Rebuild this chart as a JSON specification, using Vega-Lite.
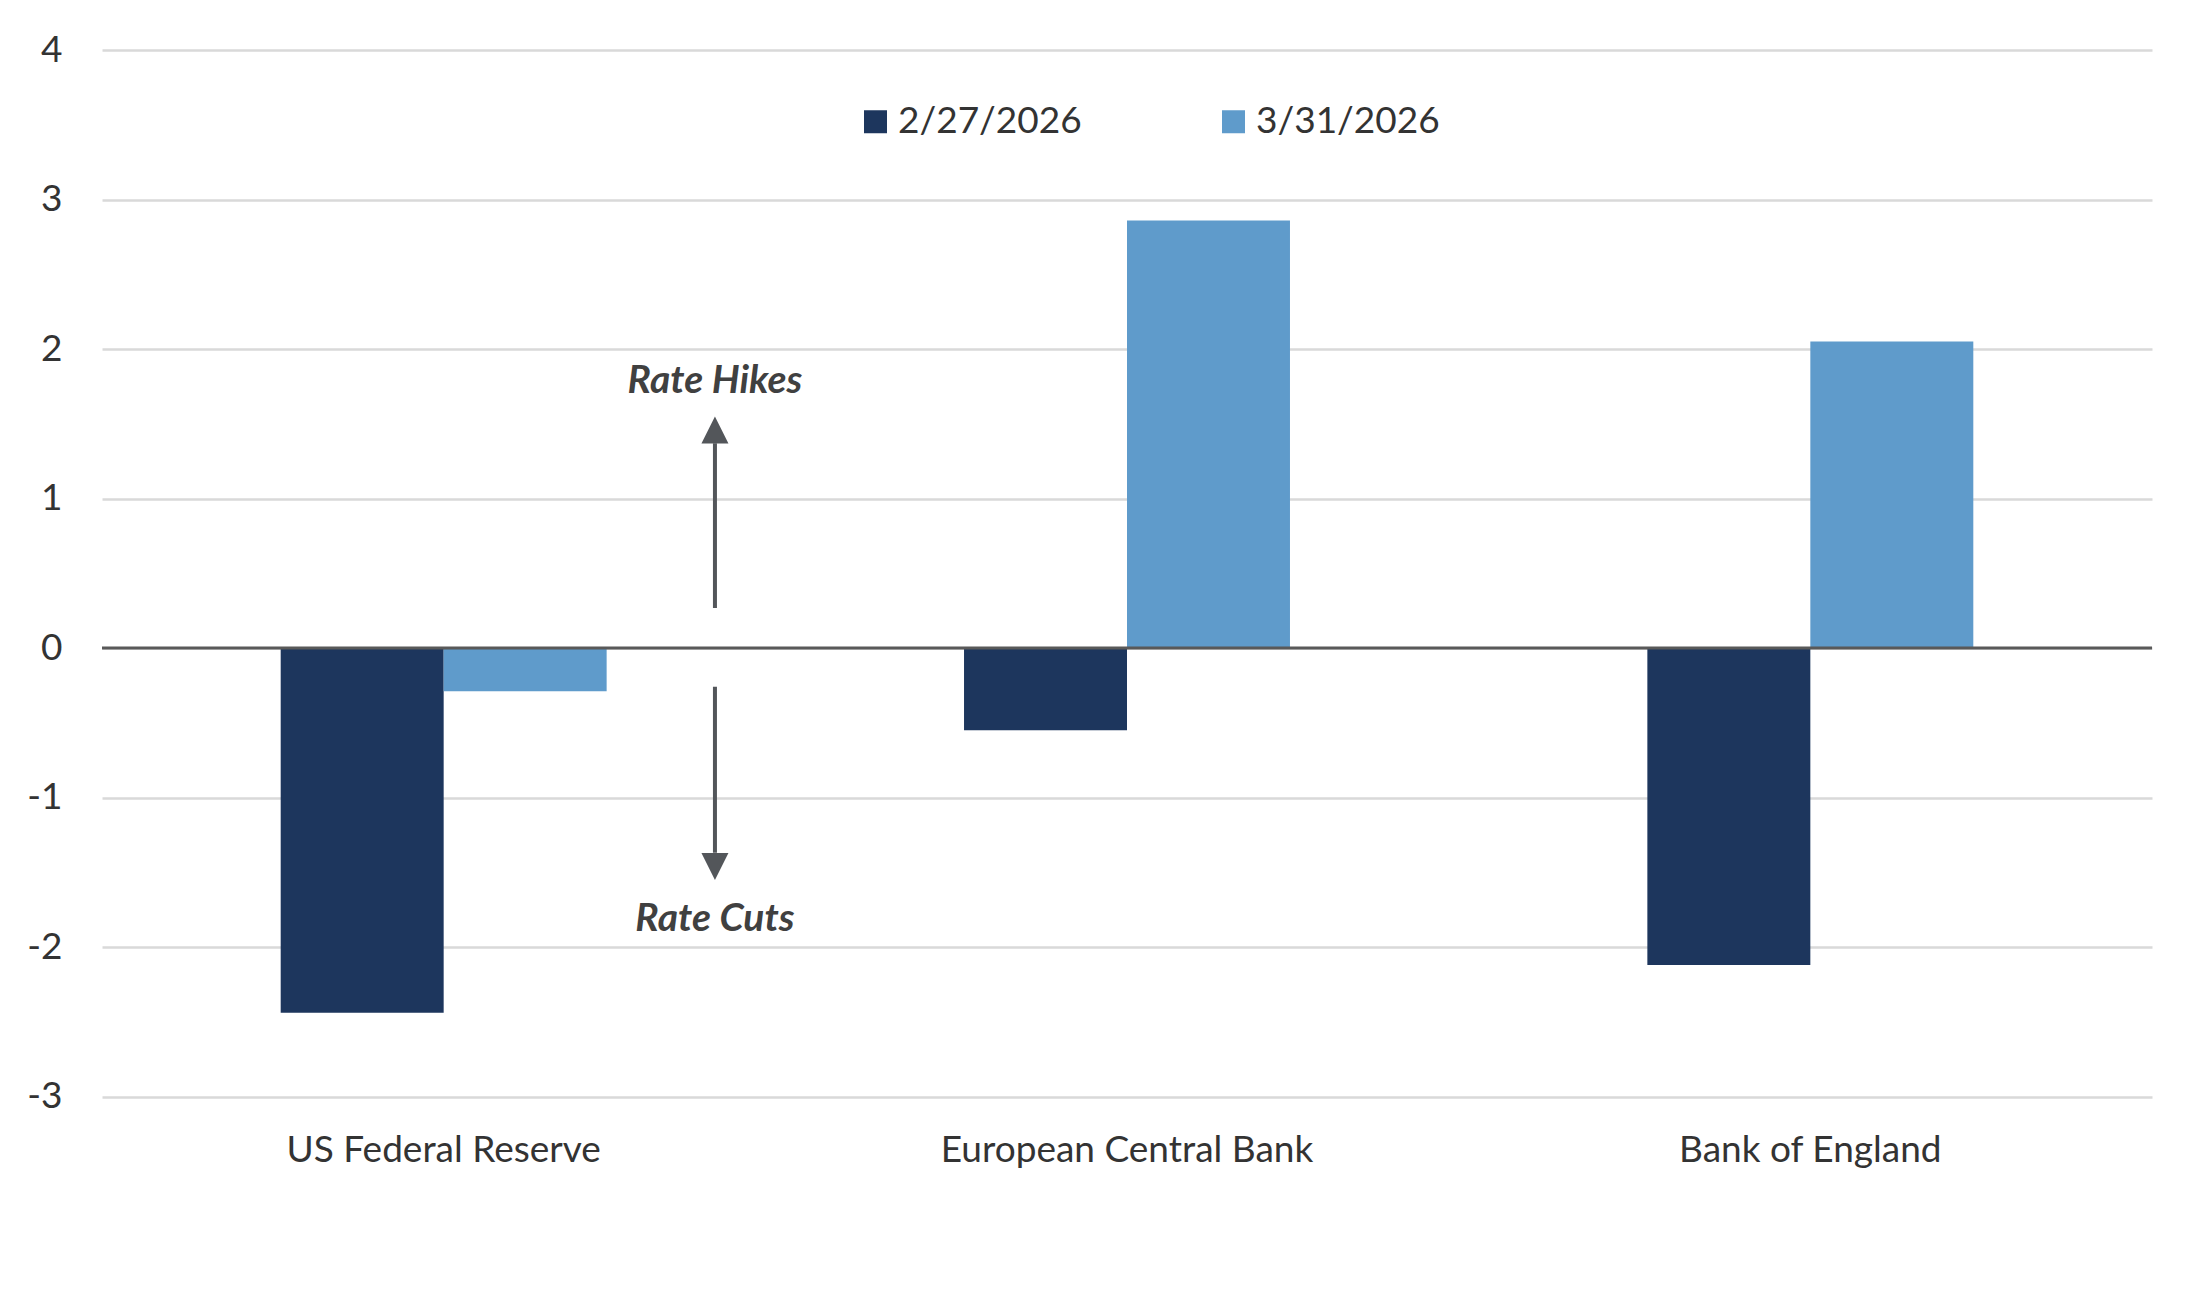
{
  "$schema": "https://vega.github.io/schema/vega-lite/v6.json",
  "autosize": {"type": "none"},
  "width": 2050,
  "height": 1046.5,
  "padding": {"left": 102, "top": 50, "right": 50, "bottom": 211.5},
  "background": "white",
  "config": {
    "font": "Lato",
    "view": {"stroke": null},
    "axis": {"labelFont": "Lato", "labelFontSize": 37, "labelColor": "#333333", "labelLimit": 600},
    "legend": {"labelFont": "Lato", "labelFontSize": 37, "labelColor": "#333333", "labelLimit": 600}
  },
  "datasets": {
    "bars": [
      {"bank": "US Federal Reserve", "date": "2/27/2026", "value": -2.44},
      {"bank": "US Federal Reserve", "date": "3/31/2026", "value": -0.29},
      {"bank": "European Central Bank", "date": "2/27/2026", "value": -0.55},
      {"bank": "European Central Bank", "date": "3/31/2026", "value": 2.86},
      {"bank": "Bank of England", "date": "2/27/2026", "value": -2.12},
      {"bank": "Bank of England", "date": "3/31/2026", "value": 2.05}
    ],
    "zero": [{"y": 0}],
    "arrows": [
      {"pos": 0.897, "from": 0.268, "to": 1.37},
      {"pos": 0.897, "from": -0.26, "to": -1.37}
    ],
    "heads": [
      {"pos": 0.897, "y": 1.458, "dir": "up"},
      {"pos": 0.897, "y": -1.462, "dir": "down"}
    ],
    "notes": [
      {"pos": 0.897, "y": 1.786, "label": "Rate Hikes"},
      {"pos": 0.897, "y": -1.813, "label": "Rate Cuts"}
    ]
  },
  "layer": [
    {
      "data": {"name": "bars"},
      "mark": {"type": "bar"},
      "encoding": {
        "x": {
          "field": "bank", "type": "nominal", "sort": null, "title": null,
          "scale": {"paddingInner": 0.523, "paddingOuter": 0.2615},
          "axis": {"domain": false, "ticks": false, "labelAngle": 0, "labelPadding": 36}
        },
        "xOffset": {"field": "date", "type": "nominal", "scale": {"paddingInner": 0}},
        "y": {
          "field": "value", "type": "quantitative", "title": null,
          "scale": {"domain": [-3, 4], "nice": false, "zero": false},
          "axis": {
            "values": [-3, -2, -1, 0, 1, 2, 3, 4], "labelExpr": "'' + datum.value",
            "domain": false, "ticks": false, "labelPadding": 40,
            "gridColor": "#d9d9d9", "gridWidth": 2.7
          }
        },
        "color": {
          "field": "date", "type": "nominal",
          "scale": {"domain": ["2/27/2026", "3/31/2026"], "range": ["#1d365d", "#5f9bcb"]},
          "legend": {
            "title": null, "orient": "none", "direction": "horizontal",
            "legendX": 755, "legendY": 53, "padding": 0,
            "symbolType": "square", "symbolSize": 529, "symbolStrokeWidth": 0,
            "labelOffset": 4, "columnPadding": 133
          }
        }
      }
    },
    {
      "data": {"name": "zero"},
      "mark": {"type": "rule", "color": "#595959", "strokeWidth": 3},
      "encoding": {"y": {"field": "y", "type": "quantitative"}}
    },
    {
      "data": {"name": "arrows"},
      "mark": {"type": "rule", "color": "#53565a", "strokeWidth": 4},
      "encoding": {
        "x": {"field": "pos", "type": "quantitative", "scale": {"domain": [0, 3], "nice": false}, "axis": null},
        "y": {"field": "from", "type": "quantitative"},
        "y2": {"field": "to"}
      }
    },
    {
      "data": {"name": "heads"},
      "mark": {"type": "point", "filled": true, "color": "#53565a", "opacity": 1, "size": 729},
      "encoding": {
        "x": {"field": "pos", "type": "quantitative", "scale": {"domain": [0, 3], "nice": false}, "axis": null},
        "y": {"field": "y", "type": "quantitative"},
        "shape": {
          "field": "dir", "type": "nominal", "legend": null,
          "scale": {"domain": ["up", "down"], "range": ["M0,-1L1,1L-1,1Z", "M0,1L1,-1L-1,-1Z"]}
        }
      }
    },
    {
      "data": {"name": "notes"},
      "mark": {"type": "text", "font": "Lato", "fontSize": 39, "fontWeight": "bold", "fontStyle": "italic", "color": "#404040", "baseline": "middle", "align": "center"},
      "encoding": {
        "x": {"field": "pos", "type": "quantitative", "scale": {"domain": [0, 3], "nice": false}, "axis": null},
        "y": {"field": "y", "type": "quantitative"},
        "text": {"field": "label"}
      }
    }
  ],
  "resolve": {"scale": {"x": "independent"}}
}
